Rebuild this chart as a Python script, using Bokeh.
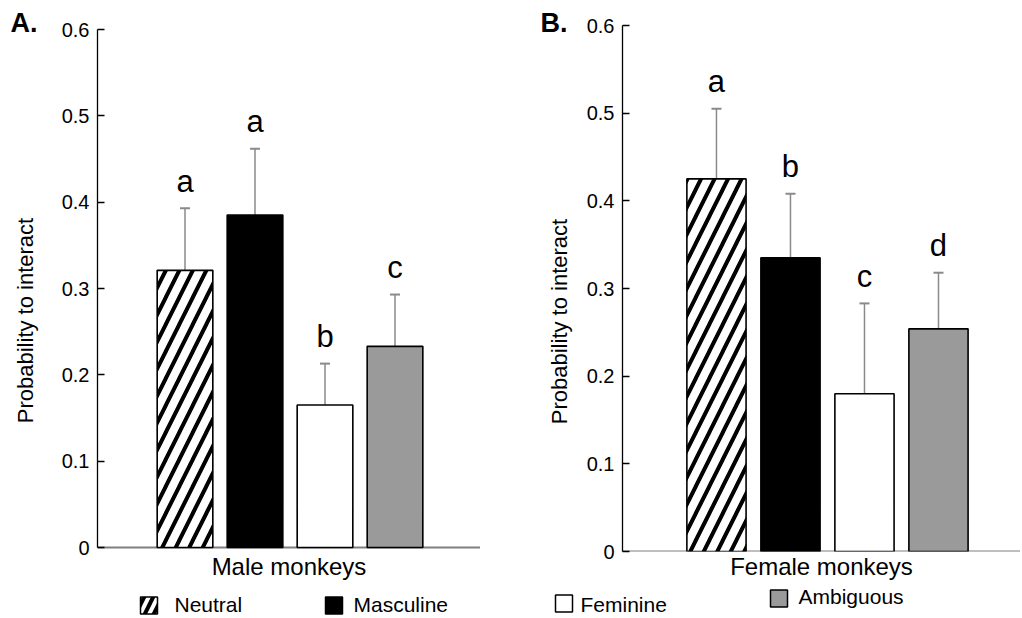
import math
from bokeh.plotting import figure
from bokeh.layouts import row, column
from bokeh.models import (ColumnDataSource, Range1d, FixedTicker, CustomJSTickFormatter,
                          Whisker, TeeHead)
from bokeh.core.properties import value
from bokeh.embed import file_html
from bokeh.resources import INLINE

# ---------------- data ----------------
categories = ["Neutral", "Masculine", "Feminine", "Ambiguous"]
male_means = [0.321, 0.385, 0.165, 0.233]
male_sem = [0.072, 0.077, 0.048, 0.060]
male_letters = ["a", "a", "b", "c"]
female_means = [0.425, 0.335, 0.180, 0.254]
female_sem = [0.080, 0.073, 0.103, 0.064]
female_letters = ["a", "b", "c", "d"]
y_ticks = [0, 0.1, 0.2, 0.3, 0.4, 0.5, 0.6]
y_label = "Probability to interact"

# ---------------- styles / layout ----------------
fill_colors = ["white", "black", "white", "#9a9a9a"]
hatches = ["right_diagonal_line", " ", " ", " "]
FONT = "Liberation Sans"
TOP_H = 586          # height of the panel row
TOTAL_W = 1020
LEG_H = 30
FRAME_TOP = 10       # common frame top of the row (page px)
FRAME_BOT = 551      # common frame bottom of the row (page px)


def strip(width, tag, tag_x, tag_y, label_x, label_y):
    """Area left of a panel holding the panel tag and the y-axis title."""
    s = figure(width=width, height=TOP_H, output_backend="svg", toolbar_location=None,
               x_range=Range1d(0, width), y_range=Range1d(FRAME_BOT, FRAME_TOP),
               x_axis_type=None, y_axis_type=None, min_border_left=0,
               min_border_right=0, min_border_top=FRAME_TOP,
               min_border_bottom=TOP_H - FRAME_BOT)
    s.outline_line_color = None
    s.text(x=[tag_x], y=[tag_y], text=[tag], text_font=value(FONT),
           text_font_size="27px", text_font_style="bold", text_color="black",
           text_align="left", text_baseline="middle")
    s.text(x=[label_x], y=[label_y], text=[y_label], angle=math.pi / 2,
           text_font=value(FONT), text_font_size="22px", text_color="black",
           text_align="center", text_baseline="middle")
    return s


def panel(means, sem, letters, xlabel, width, border_left, x_start, px_per_unit,
          bar_w, y0_px, y06_px, base_end=None):
    frame_w = width - border_left
    x_end = x_start + frame_w / px_per_unit
    ppu_y = (y0_px - y06_px) / 0.6
    y_start = -(FRAME_BOT - y0_px) / ppu_y
    y_end = 0.6 + (y06_px - FRAME_TOP) / ppu_y
    p = figure(width=width, height=TOP_H, output_backend="svg", toolbar_location=None,
               x_range=Range1d(x_start, x_end), y_range=Range1d(y_start, y_end),
               min_border_left=border_left, min_border_right=0,
               min_border_top=FRAME_TOP, min_border_bottom=TOP_H - FRAME_BOT)
    p.outline_line_color = None
    p.grid.visible = False

    xs = [i + 1 for i in range(len(categories))]
    src = ColumnDataSource(dict(
        x=xs, top=means, upper=[m + s for m, s in zip(means, sem)],
        color=fill_colors, hatch=hatches, letter=letters))

    # x baseline (gray)
    p.segment(x0=[x_start], y0=[0], x1=[base_end if base_end is not None else x_end],
              y1=[0], line_color="#7f7f7f", line_width=2)

    p.vbar(x="x", top="top", width=bar_w, bottom=0, source=src,
           fill_color="color", line_color="black", line_width=1.6,
           hatch_pattern="hatch", hatch_color="black", hatch_scale=27,
           hatch_weight=4)

    p.add_layout(Whisker(base="x", lower="top", upper="upper", source=src,
                         line_color="#8a8a8a", line_width=1.5, lower_head=None,
                         upper_head=TeeHead(size=10, line_color="#8a8a8a",
                                            line_width=2)))

    p.text(x="x", y="upper", text="letter", source=src, y_offset=-27,
           text_align="center", text_baseline="middle",
           text_font=value(FONT), text_font_size="31px", text_color="black")

    ya = p.yaxis[0]
    ya.ticker = FixedTicker(ticks=y_ticks)
    ya.formatter = CustomJSTickFormatter(code="return tick == 0 ? '0' : tick.toFixed(1);")
    ya.bounds = (0, 0.6)
    ya.axis_line_color = "black"
    ya.axis_line_width = 1.3
    ya.major_tick_line_color = "black"
    ya.major_tick_line_width = 1.3
    ya.major_tick_out = 0
    ya.major_tick_in = 7
    ya.minor_tick_line_color = None
    ya.major_label_text_font = FONT
    ya.major_label_text_font_size = "20px"
    ya.major_label_text_color = "black"
    ya.major_label_standoff = 8

    xa = p.xaxis[0]
    xa.ticker = FixedTicker(ticks=[])
    xa.major_label_text_font_size = "0px"
    xa.major_tick_line_color = None
    xa.minor_tick_line_color = None
    xa.axis_line_color = None
    xa.axis_label = xlabel
    xa.axis_label_text_font = FONT
    xa.axis_label_text_font_size = "24px"
    xa.axis_label_text_font_style = "normal"
    xa.axis_label_text_color = "black"
    xa.axis_label_standoff = 1
    return p


# legend (positions in page pixels)
leg_sq_x = [148.5, 333.5, 563.5, 778.5]
leg_sq_y = [605, 605, 603, 598]
leg_txt_x = [174, 353, 580, 798]
leg_txt_y = [604, 604, 604, 596]


def legend_strip():
    lg = figure(width=TOTAL_W, height=LEG_H, output_backend="svg", toolbar_location=None,
                x_range=Range1d(0, TOTAL_W), y_range=Range1d(TOP_H + LEG_H, TOP_H),
                x_axis_type=None, y_axis_type=None, min_border=0)
    lg.outline_line_color = None
    src = ColumnDataSource(dict(x=leg_sq_x, y=leg_sq_y, color=fill_colors,
                                hatch=hatches, tx=leg_txt_x, ty=leg_txt_y,
                                label=categories))
    lg.scatter(x="x", y="y", marker="square", size=17, source=src,
               fill_color="color", line_color="black", line_width=1.5,
               hatch_pattern="hatch", hatch_color="black", hatch_scale=18,
               hatch_weight=4)
    lg.text(x="tx", y="ty", text="label", source=src, text_font=value(FONT),
            text_font_size="21px", text_color="black", text_align="left",
            text_baseline="middle")
    return lg


sA = strip(50, "A.", 10, 22, 25, 320)
pA = panel(male_means, male_sem, male_letters, "Male monkeys",
           width=430, border_left=47, x_start=-0.25, px_per_unit=70.0,
           bar_w=0.795, y0_px=547, y06_px=29, base_end=5.27)
sB = strip(100, "B.", 60, 22, 79, 321)
pB = panel(female_means, female_sem, female_letters, "Female monkeys",
           width=440, border_left=42, x_start=-0.27, px_per_unit=74.0,
           bar_w=0.80, y0_px=551, y06_px=25)

layout = column(row(sA, pA, sB, pB), legend_strip())
open("out.html", "w").write(file_html(layout, INLINE))
